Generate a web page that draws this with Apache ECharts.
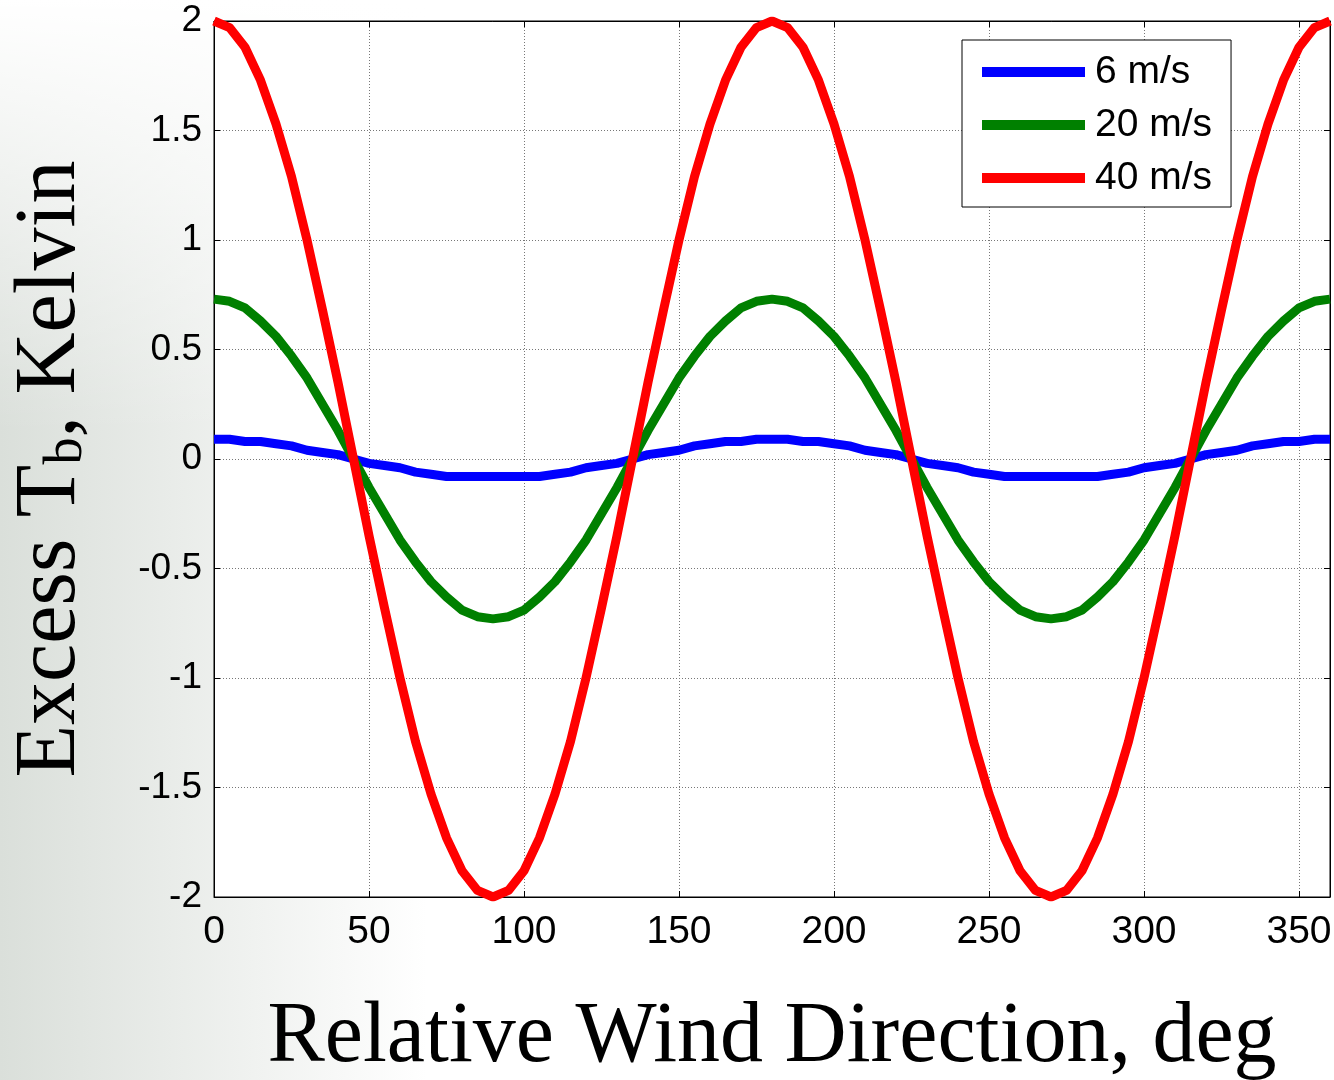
<!DOCTYPE html>
<html><head><meta charset="utf-8">
<script src="https://cdn.jsdelivr.net/npm/echarts@6/dist/echarts.min.js"></script>
<style>html,body{margin:0;padding:0;background:#fff}#c{width:1334px;height:1080px}</style>
</head><body><div id="c"></div>
<script>
const directions = [0,5,10,15,20,25,30,35,40,45,50,55,60,65,70,75,80,85,90,95,100,105,110,115,120,125,130,135,140,145,150,155,160,165,170,175,180,185,190,195,200,205,210,215,220,225,230,235,240,245,250,255,260,265,270,275,280,285,290,295,300,305,310,315,320,325,330,335,340,345,350,355,360];
const wind6 = [0.09,0.09,0.08,0.08,0.07,0.06,0.04,0.03,0.02,0.00,-0.02,-0.03,-0.04,-0.06,-0.07,-0.08,-0.08,-0.08,-0.08,
  -0.08,-0.08,-0.08,-0.07,-0.06,-0.04,-0.03,-0.02,0.00,0.02,0.03,0.04,0.06,0.07,0.08,0.08,0.09,0.09,
  0.09,0.08,0.08,0.07,0.06,0.04,0.03,0.02,0.00,-0.02,-0.03,-0.04,-0.06,-0.07,-0.08,-0.08,-0.08,-0.08,
  -0.08,-0.08,-0.08,-0.07,-0.06,-0.04,-0.03,-0.02,0.00,0.02,0.03,0.04,0.06,0.07,0.08,0.08,0.09,0.09];
const wind20 = [0.73,0.72,0.69,0.63,0.56,0.47,0.37,0.25,0.13,0.00,-0.13,-0.25,-0.37,-0.47,-0.56,-0.63,-0.69,-0.72,-0.73,
  -0.72,-0.69,-0.63,-0.56,-0.47,-0.37,-0.25,-0.13,0.00,0.13,0.25,0.37,0.47,0.56,0.63,0.69,0.72,0.73,
  0.72,0.69,0.63,0.56,0.47,0.37,0.25,0.13,0.00,-0.13,-0.25,-0.37,-0.47,-0.56,-0.63,-0.69,-0.72,-0.73,
  -0.72,-0.69,-0.63,-0.56,-0.47,-0.37,-0.25,-0.13,0.00,0.13,0.25,0.37,0.47,0.56,0.63,0.69,0.72,0.73];
const wind40 = [2.00,1.97,1.88,1.73,1.53,1.29,1.00,0.68,0.35,0.00,-0.35,-0.68,-1.00,-1.29,-1.53,-1.73,-1.88,-1.97,-2.00,
  -1.97,-1.88,-1.73,-1.53,-1.29,-1.00,-0.68,-0.35,0.00,0.35,0.68,1.00,1.29,1.53,1.73,1.88,1.97,2.00,
  1.97,1.88,1.73,1.53,1.29,1.00,0.68,0.35,0.00,-0.35,-0.68,-1.00,-1.29,-1.53,-1.73,-1.88,-1.97,-2.00,
  -1.97,-1.88,-1.73,-1.53,-1.29,-1.00,-0.68,-0.35,0.00,0.35,0.68,1.00,1.29,1.53,1.73,1.88,1.97,2.00];
const seriesNames = ['6 m/s','20 m/s','40 m/s'];
const seriesColors = ['#0000ff','#008000','#ff0000'];

const pairs = arr => directions.map((d,i)=>[d,arr[i]]);
const chart = echarts.init(document.getElementById('c'), null, {renderer:'canvas'});
const sans = 'Liberation Sans, Arial, sans-serif';
const serif = 'Liberation Serif, Times New Roman, serif';
const split = {show:true, lineStyle:{color:'#777', type:[1,2], width:1}};
const mkSeries = (name, arr, color, z) => ({
  name, type:'line', data:pairs(arr), showSymbol:false, smooth:false, z,
  lineStyle:{color, width:9, cap:'butt', join:'round'}, itemStyle:{color}
});
chart.setOption({
  animation:false,
  backgroundColor:'#ffffff',
  graphic:[
    {type:'rect', z:-100, silent:true, shape:{x:0,y:0,width:1334,height:1080},
     style:{fill:{type:'linear',x:0,y:0,x2:1,y2:0,colorStops:[{offset:0,color:'#dadfda'},{offset:0.32,color:'#ffffff'},{offset:1,color:'#ffffff'}]}}},
    {type:'rect', z:-99, silent:true, shape:{x:0,y:0,width:1334,height:1080},
     style:{fill:{type:'linear',x:0,y:0,x2:0,y2:1,colorStops:[{offset:0,color:'rgba(255,255,255,1)'},{offset:0.4,color:'rgba(255,255,255,0)'},{offset:1,color:'rgba(255,255,255,0)'}]}}}
  ],
  grid:{left:214, top:21, right:4, bottom:183, containLabel:false, outerBoundsMode:'none',
        show:true, backgroundColor:'#ffffff', borderColor:'#000', borderWidth:1},
  legend:{
    data:seriesNames, orient:'vertical', left:962, top:40,
    icon:'rect', itemWidth:103, itemHeight:10, itemGap:9,
    padding:[10,19,7,20], backgroundColor:'#ffffff', borderColor:'#000', borderWidth:1,
    textStyle:{fontFamily:sans, fontSize:39, color:'#000', lineHeight:44, padding:[0,0,0,5]}
  },
  xAxis:[
    {type:'value', min:0, max:360, interval:50, position:'bottom',
     axisLine:{show:true, onZero:false, lineStyle:{color:'#000', width:1}},
     axisTick:{show:true, inside:true, length:6, lineStyle:{color:'#000'}},
     axisLabel:{fontFamily:sans, fontSize:39, color:'#000', margin:16, formatter:v=> v===360?'':String(v)},
     splitLine:split,
     name:'Relative Wind Direction, deg', nameLocation:'middle', nameGap:98,
     nameTextStyle:{fontFamily:serif, fontSize:86, color:'#000'}},
    {type:'value', min:0, max:360, interval:50, position:'top',
     axisLine:{show:true, onZero:false, lineStyle:{color:'#000'}},
     axisTick:{show:true, inside:true, length:6, lineStyle:{color:'#000'}},
     axisLabel:{show:false}, splitLine:{show:false}}
  ],
  yAxis:[
    {type:'value', min:-2, max:2, interval:0.5, position:'left',
     axisLine:{show:true, onZero:false, lineStyle:{color:'#000', width:1}},
     axisTick:{show:true, inside:true, length:6, lineStyle:{color:'#000'}},
     axisLabel:{fontFamily:sans, fontSize:37, color:'#000', margin:12, formatter:v=>String(v)},
     splitLine:split,
     name:'{m|Excess T}{s|b}{m|, Kelvin}', nameLocation:'middle', nameGap:120, nameRotate:90,
     nameTextStyle:{fontFamily:serif, fontSize:86, color:'#000', padding:[0,20,0,0],
       rich:{m:{fontFamily:serif, fontSize:86, color:'#000', lineHeight:96, verticalAlign:'bottom'},
             s:{fontFamily:serif, fontSize:54, color:'#000', lineHeight:64, verticalAlign:'bottom'}}}},
    {type:'value', min:-2, max:2, interval:0.5, position:'right',
     axisLine:{show:true, onZero:false, lineStyle:{color:'#000'}},
     axisTick:{show:true, inside:true, length:6, lineStyle:{color:'#000'}},
     axisLabel:{show:false}, splitLine:{show:false}}
  ],
  series:[
    mkSeries(seriesNames[0], wind6, seriesColors[0], 3),
    mkSeries(seriesNames[1], wind20, seriesColors[1], 4),
    mkSeries(seriesNames[2], wind40, seriesColors[2], 5)
  ]
});
</script></body></html>
